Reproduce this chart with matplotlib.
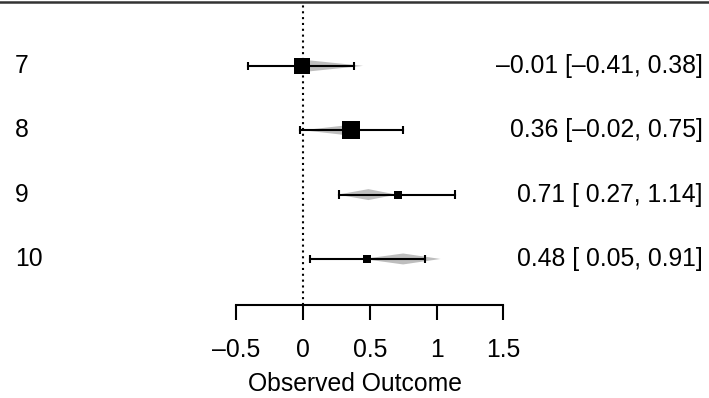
import matplotlib

matplotlib.use("Agg")
import matplotlib.pyplot as plt
import numpy as np
from matplotlib.patches import Polygon

plt.rcParams["font.family"] = ["Liberation Sans", "DejaVu Sans"]

# study rows, observed estimates and 95% CIs
ROWS = [7, 8, 9, 10]
EST = [-0.01, 0.36, 0.71, 0.48]
CI_LO = [-0.41, -0.02, 0.27, 0.05]
CI_HI = [0.38, 0.75, 1.14, 0.91]
WEIGHTS = [1.0, 1.05, 0.45, 0.5]

# grey diamonds behind each study (left, centre, right)
DIA_LO = [-0.05, 0.0, 0.26, 0.45]
DIA_MID = [0.05, 0.36, 0.49, 0.75]
DIA_HI = [0.45, 0.43, 0.70, 1.03]

XTICKS = [-0.5, 0, 0.5, 1, 1.5]
XLABEL = "Observed Outcome"


def fmt(v):
    s = f"{abs(v):.2f}"
    return ("\u2013" + s) if v < 0 else s


def fmt_pad(v, pad):
    s = fmt(v)
    return s if (v < 0 or not pad) else " " + s


def fmt_tick(v):
    s = f"{abs(v):g}"
    return ("\u2013" + s) if v < 0 else s


def main():
    fig = plt.figure(figsize=(7.09, 3.98), dpi=100)
    ax = fig.add_axes([0, 0.2337, 1, 0.7625])
    ax.set_xlim(-2.2697, 3.041)
    ax.set_ylim(10.715, 6.0)

    fs = 17.8
    pad_lo = any(v < 0 for v in CI_LO)

    for i, r in enumerate(ROWS):
        h = 0.085
        poly = Polygon(
            [[DIA_LO[i], r], [DIA_MID[i], r - h], [DIA_HI[i], r], [DIA_MID[i], r + h]],
            closed=True, facecolor="#bebebe", edgecolor="none", zorder=2,
        )
        ax.add_patch(poly)
        ax.plot([CI_LO[i], CI_HI[i]], [r, r], color="black", lw=1.5, zorder=3)
        ax.vlines([CI_LO[i], CI_HI[i]], r - 0.065, r + 0.065, color="black", lw=1.5, zorder=3)
        ax.plot(EST[i], r, marker="s", color="black", markersize=16.5 * WEIGHTS[i] * 0.72,
                markeredgewidth=0, zorder=4)
        ax.text(-2.157, r, str(r), ha="left", va="center", fontsize=fs)
        label = f"{fmt(EST[i])} [{fmt_pad(CI_LO[i], pad_lo)}, {fmt(CI_HI[i])}]"
        ax.text(2.996, r, label, ha="right", va="center", fontsize=fs)

    ax.axvline(0, color="black", lw=1.5, linestyle=(0, (1.0, 1.8)), zorder=1)

    for side in ["left", "right"]:
        ax.spines[side].set_visible(False)
    ax.spines["top"].set_color("#333333")
    ax.spines["top"].set_linewidth(1.8)
    ax.spines["bottom"].set_bounds(XTICKS[0], XTICKS[-1])
    ax.spines["bottom"].set_linewidth(1.5)
    ax.set_yticks([])
    ax.set_xticks(XTICKS)
    ax.set_xticklabels([fmt_tick(v) for v in XTICKS])
    ax.tick_params(axis="x", length=10.8, width=1.5, pad=13, labelsize=fs)
    ax.set_xlabel(XLABEL, fontsize=fs, labelpad=7)

    fig.savefig("out.png", dpi=100)
    plt.close(fig)


if __name__ == "__main__":
    main()
